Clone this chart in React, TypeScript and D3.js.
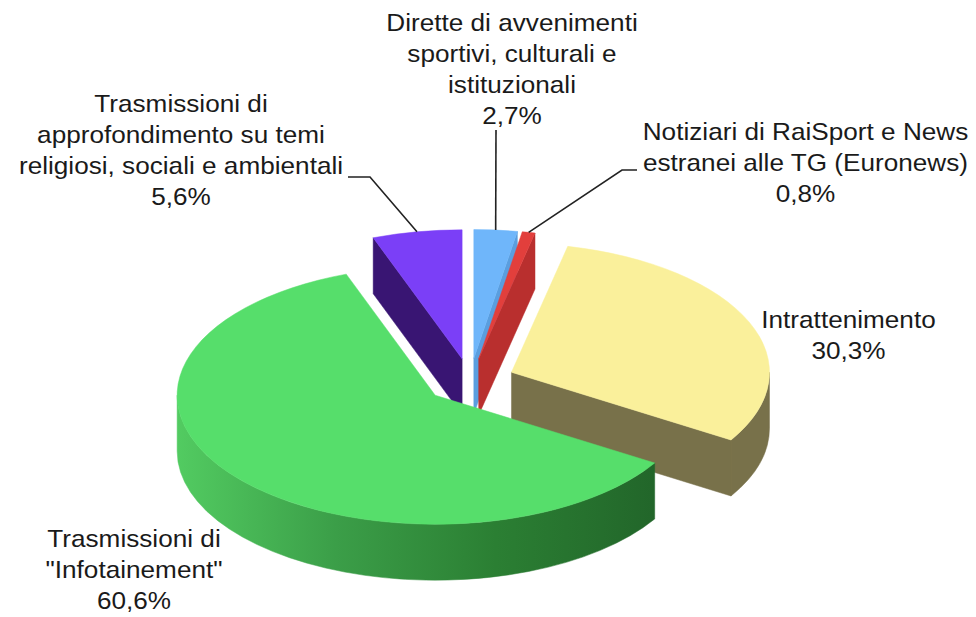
import React from "react";
import * as d3 from "d3";

// ---- data (clockwise from 12 o'clock) ----
const CATEGORIES = [
  "Dirette di avvenimenti sportivi, culturali e istituzionali",
  "Notiziari di RaiSport e News estranei alle TG (Euronews)",
  "Intrattenimento",
  "Trasmissioni di \"Infotainement\"",
  "Trasmissioni di approfondimento su temi religiosi, sociali e ambientali",
];
const VALUES = [2.7, 0.8, 30.3, 60.6, 5.6];
const VALUE_LABELS = ["2,7%", "0,8%", "30,3%", "60,6%", "5,6%"];
const LABEL_LINES = [
  ["Dirette di avvenimenti", "sportivi, culturali e", "istituzionali"],
  ["Notiziari di RaiSport e News", "estranei alle TG (Euronews)"],
  ["Intrattenimento"],
  ["Trasmissioni di", "\"Infotainement\""],
  ["Trasmissioni di", "approfondimento su temi", "religiosi, sociali e ambientali"],
];

// ---- style ----
const TOP_COLORS = ["#6fb6fa", "#e23f3c", "#faf09b", "#56de6b", "#7b3ff7"];
const SIDE_COLORS = ["#5a9edf", "#b92f2e", "#78714a", "#2f8a3a", "#391573"];
const WALL_STOPS: (string[] | null)[] = [
  null,
  null,
  null,
  ["#52cb61", "#3b9e48", "#2b7f33", "#22662a"],
  null,
];

// ---- layout ----
const W = 976;
const H = 617;
const CX = 470;
const CY = 381;
const RX = 258;
const RY = 129;
const DEPTH = 56;
const EXPLODE = 45;
const FONT_SIZE = 24;
const LINE_H = 31;
const TEXT_STRETCH = 1.09;
const LABEL_POS: { x: number; y: number; leader?: [number, number][] }[] = [
  { x: 512, y: 31, leader: [[496, 130]] },
  { x: 805.5, y: 140.5, leader: [[622, 170], [637, 170]] },
  { x: 848.5, y: 328.5 },
  { x: 134, y: 547 },
  { x: 181, y: 112, leader: [[370, 177], [348, 177]] },
];

type Slice = {
  i: number;
  a0: number;
  a1: number;
  m: number;
  cx: number;
  cy: number;
};

function pt(cx: number, cy: number, t: number, dz = 0): [number, number] {
  return [cx + RX * Math.sin(t), cy - RY * Math.cos(t) + dz];
}

export default function App() {
  const pie = d3
    .pie<number>()
    .sort(null)
    .value((d) => d)
    .startAngle(0)
    .endAngle(Math.PI * 2);
  const arcs = pie(VALUES);

  const slices: Slice[] = arcs.map((a, i) => {
    const m = (a.startAngle + a.endAngle) / 2;
    return {
      i,
      a0: a.startAngle,
      a1: a.endAngle,
      m,
      cx: CX + EXPLODE * Math.sin(m),
      cy: CY - EXPLODE * (RY / RX) * Math.cos(m),
    };
  });

  const order = [...slices].sort((p, q) => p.cy - q.cy);

  const f = (p: [number, number]) => `${p[0].toFixed(2)},${p[1].toFixed(2)}`;

  const renderSlice = (s: Slice) => {
    const { i, a0, a1, cx, cy } = s;
    const parts: React.ReactNode[] = [];
    // outer wall
    const ws = Math.max(a0, Math.PI / 2);
    const we = Math.min(a1, (Math.PI * 3) / 2);
    if (ws < we) {
      const p0 = pt(cx, cy, ws);
      const p1 = pt(cx, cy, we);
      const q1 = pt(cx, cy, we, DEPTH);
      const q0 = pt(cx, cy, ws, DEPTH);
      const d = `M${f(p0)} A${RX},${RY} 0 0 1 ${f(p1)} L${f(q1)} A${RX},${RY} 0 0 0 ${f(q0)} Z`;
      const fill = WALL_STOPS[i] ? `url(#wall-${i})` : SIDE_COLORS[i];
      parts.push(<path key="wall" d={d} fill={fill} stroke={fill} strokeWidth={0.5} />);
    }
    // cut faces
    const face = (t: number, key: string) => {
      const c0: [number, number] = [cx, cy];
      const p = pt(cx, cy, t);
      const q = pt(cx, cy, t, DEPTH);
      const c1: [number, number] = [cx, cy + DEPTH];
      const d = `M${f(c0)} L${f(p)} L${f(q)} L${f(c1)} Z`;
      return <path key={key} d={d} fill={SIDE_COLORS[i]} stroke={SIDE_COLORS[i]} strokeWidth={0.5} />;
    };
    if (Math.sin(a0) < -1e-6) parts.push(face(a0, "f0"));
    if (Math.sin(a1) > 1e-6) parts.push(face(a1, "f1"));
    // top
    const p0 = pt(cx, cy, a0);
    const p1 = pt(cx, cy, a1);
    const large = a1 - a0 > Math.PI ? 1 : 0;
    const top = `M${cx.toFixed(2)},${cy.toFixed(2)} L${f(p0)} A${RX},${RY} 0 ${large} 1 ${f(p1)} Z`;
    parts.push(<path key="top" d={top} fill={TOP_COLORS[i]} stroke={TOP_COLORS[i]} strokeWidth={0.5} />);
    return <g key={`s${i}`}>{parts}</g>;
  };

  // gradients for walls
  const gradients = slices
    .filter((s) => WALL_STOPS[s.i])
    .map((s) => {
      const stops = WALL_STOPS[s.i] as string[];
      const x1 = s.cx - RX;
      const x2 = pt(s.cx, s.cy, Math.max(s.a0, Math.PI / 2))[0];
      return (
        <linearGradient key={s.i} id={`wall-${s.i}`} gradientUnits="userSpaceOnUse" x1={x1} y1={0} x2={x2} y2={0}>
          {stops.map((c, k) => (
            <stop key={k} offset={k / (stops.length - 1)} stopColor={c} />
          ))}
        </linearGradient>
      );
    });

  const line = d3.line();

  return (
    <svg
      width={W}
      height={H}
      viewBox={`0 0 ${W} ${H}`}
      style={{ position: "absolute", left: 0, top: 0, background: "#fff" }}
      fontFamily="'Liberation Sans', Arial, Helvetica, sans-serif"
    >
      <defs>{gradients}</defs>
      {order.map(renderSlice)}
      {slices.map((s) => {
        const lp = LABEL_POS[s.i];
        if (!lp.leader) return null;
        const start = pt(s.cx, s.cy, s.m);
        const pts: [number, number][] = [start, ...lp.leader];
        return <path key={`l${s.i}`} d={line(pts) || ""} fill="none" stroke="#222" strokeWidth={1.6} />;
      })}
      {slices.map((s) => {
        const lp = LABEL_POS[s.i];
        const lines = [...LABEL_LINES[s.i], VALUE_LABELS[s.i]];
        return (
          <g key={`t${s.i}`} transform={`translate(${lp.x},0) scale(${TEXT_STRETCH},1)`}>
            <title>{CATEGORIES[s.i]}</title>
            {lines.map((t, k) => (
              <text
                key={k}
                x={0}
                y={lp.y + k * LINE_H}
                textAnchor="middle"
                fontSize={FONT_SIZE}
                fill="#1a1a1a"
              >
                {t}
              </text>
            ))}
          </g>
        );
      })}
    </svg>
  );
}
